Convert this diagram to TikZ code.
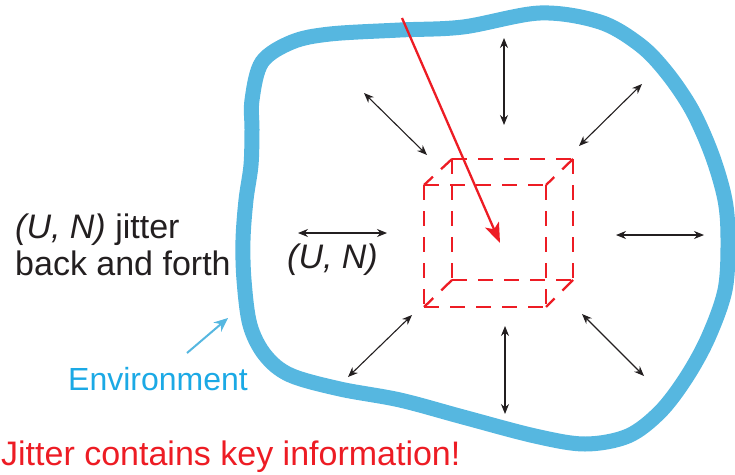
\documentclass[tikz,border=0pt]{standalone}
\usepackage{fontspec}
\setmainfont{Liberation Sans}
\usetikzlibrary{arrows.meta}
\definecolor{envblue}{HTML}{56B7E0}
\definecolor{envtext}{HTML}{1BA9E5}
\definecolor{keyred}{HTML}{ED1C24}
\definecolor{ink}{HTML}{231F20}
\tikzset{
  jit/.style={draw=ink, line width=1.1pt, {Stealth[length=10pt,width=8pt]}-{Stealth[length=10pt,width=8pt]}},
  cubeedge/.style={draw=keyred, line width=2.3pt, dash pattern=on 15pt off 11pt},
  lbl/.style={anchor=base west, inner sep=0pt, font=\fontsize{34}{40}\selectfont},
}
\begin{document}
\begin{tikzpicture}[x=1pt,y=-1pt]
\useasboundingbox (0,0) rectangle (735,474);
% environment outline
\draw[envblue, line width=15pt] plot[smooth cycle, tension=0.55] coordinates {
  (252,100) (262,62) (292,42) (330,34) (400,30) (463,27) (540,13) (600,22)
  (640,45) (667,73) (692,110) (712,155) (725,200) (728,240) (725,290)
  (708,338) (686,378) (660,412) (628,436) (585,444) (535,436) (463,417)
  (400,400) (340,389) (290,375) (265,355) (250,325) (244,280) (243,240)
  (246,200) (251,165) (252,130)};
% cube corners
\coordinate (a1) at (452,159); \coordinate (a2) at (573,159);
\coordinate (a3) at (573,280); \coordinate (a4) at (452,280);
\coordinate (b1) at (424,185); \coordinate (b2) at (546,185);
\coordinate (b3) at (546,307); \coordinate (b4) at (424,307);
\draw[cubeedge] (a1) -- (a2); \draw[cubeedge] (a2) -- (a3);
\draw[cubeedge] (a4) -- (a3); \draw[cubeedge] (a1) -- (a4);
\draw[cubeedge] (b1) -- (b2); \draw[cubeedge] (b2) -- (b3);
\draw[cubeedge] (b4) -- (b3); \draw[cubeedge] (b1) -- (b4);
\draw[cubeedge] (a1) -- (b1); \draw[cubeedge] (a2) -- (b2);
\draw[cubeedge] (a3) -- (b3); \draw[cubeedge] (a4) -- (b4);
% jitter arrows
\coordinate (t1) at (504,38);  \coordinate (t2) at (504,125);
\coordinate (tl1) at (364,93); \coordinate (tl2) at (427,155);
\coordinate (tr1) at (642,84); \coordinate (tr2) at (579,146);
\coordinate (l1) at (298,233); \coordinate (l2) at (387,233);
\coordinate (r1) at (616,235); \coordinate (r2) at (704,235);
\coordinate (bl1) at (412,315); \coordinate (bl2) at (348,377);
\coordinate (b1a) at (505,326); \coordinate (b2a) at (505,414);
\coordinate (br1) at (582,314); \coordinate (br2) at (644,376);
\draw[jit] (t1) -- (t2);
\draw[jit] (tl1) -- (tl2);
\draw[jit] (tr1) -- (tr2);
\draw[jit] (l1) -- (l2);
\draw[jit] (r1) -- (r2);
\draw[jit] (bl1) -- (bl2);
\draw[jit] (b1a) -- (b2a);
\draw[jit] (br1) -- (br2);
% red arrow into the cube
\coordinate (rs) at (402,18); \coordinate (re) at (500,243);
\draw[keyred, line width=2.3pt, -{Stealth[length=20pt,width=15pt,inset=5pt]}] (rs) -- (re);
% environment arrow
\coordinate (es) at (187,353); \coordinate (ee) at (228,318);
\draw[envblue, line width=2pt, -{Stealth[length=14pt,width=12pt]}] (es) -- (ee);
% labels
\node[lbl, text=ink] (j1) at (15,238) {{\itshape (U, N)} jitter};
\node[lbl, text=ink] (j2) at (15,275) {back and forth};
\node[lbl, text=ink] (un) at (287,268) {\itshape (U, N)};
\node[lbl, text=envtext, font=\fontsize{32}{38}\selectfont] (env) at (68,390) {Environment};
\node[lbl, text=keyred] (key) at (1,465) {Jitter contains key information!};
\end{tikzpicture}
\end{document}
